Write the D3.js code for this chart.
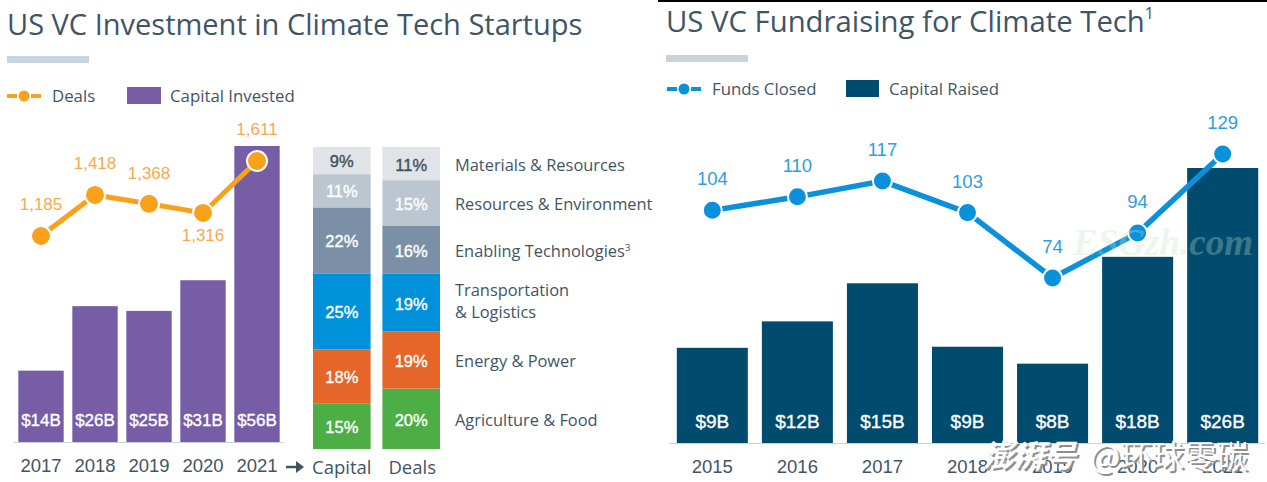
<!DOCTYPE html>
<html>
<head>
<meta charset="utf-8">
<script src="https://cdn.jsdelivr.net/npm/d3@7"></script>
<style>
  html, body { margin: 0; padding: 0; background: #fff; }
  svg { display: block; }
  text { font-family: "Open Sans", "Noto Sans", sans-serif; }
  text.num { font-family: "Liberation Sans", Arial, sans-serif; }
</style>
</head>
<body>
<div id="chart"></div>
<script>
// Data - left panel
var years_left      =   ["2017", "2018", "2019", "2020", "2021"];
var capital_left    =   [13.5, 25.7, 24.8, 30.6, 56];
var deals           =   [1185, 1418, 1368, 1316, 1611];

// Sector mix, bottom of the stack first
var sectors         =   ["Agriculture & Food", "Energy & Power", "Transportation & Logistics", "Enabling Technologies", "Resources & Environment", "Materials & Resources"];
var share_capital   =   [15, 18, 25, 22, 11, 9];
var share_deals     =   [20, 19, 19, 16, 15, 11];
var sector_colors   =   ["#4cae45", "#e66528", "#0091da", "#7b90a6", "#bcc6d0", "#e0e4e8"];
var sector_text     =   ["#fff", "#fff", "#fff", "#fff", "#fff", "#3c4f5c"];

// Data - right panel
var years_right     =   ["2015", "2016", "2017", "2018", "2019", "2020", "2021"];
var capital_right   =   [9, 11.5, 15.1, 9.1, 7.5, 17.6, 26];
var funds           =   [104, 110, 117, 103, 74, 94, 129];

var chart_width     =   1267;
var chart_height    =   482;
var ink             =   "#3f5565";
var orange          =   "#f9a11b";
var purple          =   "#775ca6";
var navy            =   "#004b6e";
var blue            =   "#0a91dc";

var svg = d3.select("#chart").append("svg")
    .attr("width", chart_width)
    .attr("height", chart_height);

// Scales
var x_left  = d3.scaleBand().domain(years_left).range([14, 284]).paddingInner(0.16).paddingOuter(0.08);
var y_left  = d3.scaleLinear().domain([0, 56]).range([442, 146]);
var y_deals = d3.scaleLinear().domain([1185, 1611]).range([236, 161]);
var x_stack = d3.scaleBand().domain(["Capital", "Deals"]).range([313, 440]).paddingInner(0.17);
var y_share = d3.scaleLinear().domain([0, 100]).range([449, 147]);
var x_right = d3.scaleBand().domain(years_right).range([670, 1265]).paddingInner(0.165).paddingOuter(0.08);
var y_right = d3.scaleLinear().domain([0, 26]).range([443, 168]);
var y_funds = d3.scaleLinear().domain([74, 129]).range([278, 154]);

function label(x, y, txt, size, fill, anchor, weight) {
    return svg.append("text")
        .attr("x", x)
        .attr("y", y)
        .attr("font-size", size)
        .attr("fill", fill)
        .attr("text-anchor", anchor || "start")
        .attr("font-weight", weight || 400)
        .attr("dominant-baseline", "middle")
        .text(txt);
}
function numLabel(x, y, txt, size, fill) {
    return label(x, y, txt, size, fill, "middle").attr("class", "num");
}
// labels inside the bars read a bit heavier than regular
function barLabel(x, y, txt, size, fill) {
    return numLabel(x, y, txt, size, fill).attr("stroke", fill).attr("stroke-width", 0.35);
}

// Titles
label(7, 27, "US VC Investment in Climate Tech Startups", 29, ink);
var t = label(666, 24, "US VC Fundraising for Climate Tech", 29.3, ink);
t.append("tspan").attr("font-size", 16).attr("dy", -9).text("1");
svg.append("rect").attr("x", 658).attr("y", 0).attr("width", 609).attr("height", 2).attr("fill", "#000");
svg.append("rect").attr("x", 7).attr("y", 56).attr("width", 82).attr("height", 7).attr("fill", "#c8d3dd");
svg.append("rect").attr("x", 666).attr("y", 55).attr("width", 82).attr("height", 7).attr("fill", "#c8d3dd");

// Legends
function legendLine(x, y, color, r) {
    svg.append("line").attr("x1", x).attr("x2", x + 34).attr("y1", y).attr("y2", y)
        .attr("stroke", color).attr("stroke-width", 4).attr("stroke-dasharray", "10 14 10");
    svg.append("circle").attr("cx", x + 17).attr("cy", y).attr("r", r).attr("fill", color);
}
legendLine(7, 96, orange, 5.5);
label(52, 97, "Deals", 16.8, ink);
svg.append("rect").attr("x", 127).attr("y", 87).attr("width", 34).attr("height", 17).attr("fill", purple);
label(170, 97, "Capital Invested", 16.8, ink);
legendLine(667, 89, blue, 5.5);
label(712, 90, "Funds Closed", 16.8, ink);
svg.append("rect").attr("x", 846).attr("y", 80).attr("width", 33).attr("height", 17).attr("fill", navy);
label(889, 90, "Capital Raised", 16.8, ink);

// Left bars
svg.selectAll(".bar-left").data(capital_left).enter().append("rect")
    .attr("x", (d, i) => x_left(years_left[i]))
    .attr("y", d => y_left(d))
    .attr("width", x_left.bandwidth())
    .attr("height", d => y_left(0) - y_left(d))
    .attr("fill", purple);
capital_left.forEach((d, i) => {
    var cx = x_left(years_left[i]) + x_left.bandwidth() / 2;
    barLabel(cx, 422, "$" + Math.round(d) + "B", 17, "#fff");
    numLabel(cx, 467, years_left[i], 18.5, ink);
});
svg.append("line").attr("x1", 14).attr("x2", 284).attr("y1", 442.5).attr("y2", 442.5).attr("stroke", "#c8d3dd");

// Deals line
var line_left = d3.line().x((d, i) => x_left(years_left[i]) + x_left.bandwidth() / 2).y(d => y_deals(d));
svg.append("path").attr("d", line_left(deals)).attr("fill", "none").attr("stroke", orange).attr("stroke-width", 5);
svg.selectAll(".dot-left").data(deals).enter().append("circle")
    .attr("cx", (d, i) => x_left(years_left[i]) + x_left.bandwidth() / 2)
    .attr("cy", d => y_deals(d))
    .attr("r", 10)
    .attr("fill", orange)
    .attr("stroke", "#fff")
    .attr("stroke-width", 2);
var deals_dy = [-30, -30, -29, 24, -30];
deals.forEach((d, i) => {
    var cx = x_left(years_left[i]) + x_left.bandwidth() / 2;
    numLabel(cx, y_deals(d) + deals_dy[i], d3.format(",")(d), 17, "#f9a94a");
});

// Arrow between the panels
svg.append("path").attr("d", "M286 467H302").attr("stroke", ink).attr("stroke-width", 2.5);
svg.append("path").attr("d", "M296 461L304 467L296 473Z").attr("fill", ink);

// Stacks
[["Capital", share_capital, 2], ["Deals", share_deals, 3]].forEach(function(col) {
    var cum = d3.cumsum(col[1]);
    svg.selectAll(".s-" + col[0]).data(col[1]).enter().append("rect")
        .attr("x", x_stack(col[0]))
        .attr("y", (d, i) => y_share(cum[i]))
        .attr("width", x_stack.bandwidth())
        .attr("height", d => y_share(0) - y_share(d))
        .attr("fill", (d, i) => sector_colors[i]);
    col[1].forEach((d, i) => {
        barLabel(x_stack(col[0]) + x_stack.bandwidth() / 2, y_share(cum[i] - d / 2) + col[2], d + "%", 16.5, sector_text[i]);
    });
    label(x_stack(col[0]) + x_stack.bandwidth() / 2 - (col[0] === "Capital" ? 0 : -1), 469, col[0], 18.5, ink, "middle");
});

// Sector names - positions follow the Deals column
var cum_deals = d3.cumsum(share_deals);
sectors.forEach((s, i) => {
    var y = y_share(cum_deals[i] - share_deals[i] / 2) + 3;
    if (s === "Transportation & Logistics") {
        label(455, y - 14, "Transportation", 16.4, ink);
        label(455, y + 8, "& Logistics", 16.4, ink);
    } else if (s === "Enabling Technologies") {
        var e = label(455, y, s, 16.4, ink);
        e.append("tspan").attr("font-size", 9.5).attr("dy", -5).text("3");
    } else {
        label(455, y, s, 16.4, ink);
    }
});

// Right bars
svg.selectAll(".bar-right").data(capital_right).enter().append("rect")
    .attr("x", (d, i) => x_right(years_right[i]))
    .attr("y", d => y_right(d))
    .attr("width", x_right.bandwidth())
    .attr("height", d => y_right(0) - y_right(d))
    .attr("fill", navy);
capital_right.forEach((d, i) => {
    var cx = x_right(years_right[i]) + x_right.bandwidth() / 2;
    barLabel(cx, 423, "$" + Math.round(d) + "B", 19, "#fff");
    numLabel(cx, 468, years_right[i], 18.5, ink);
});
svg.append("line").attr("x1", 670).attr("x2", 1265).attr("y1", 443.5).attr("y2", 443.5).attr("stroke", "#c8d3dd");

// Funds line
var line_right = d3.line().x((d, i) => x_right(years_right[i]) + x_right.bandwidth() / 2).y(d => y_funds(d));
svg.append("path").attr("d", line_right(funds)).attr("fill", "none").attr("stroke", blue).attr("stroke-width", 5.5);
svg.selectAll(".dot-right").data(funds).enter().append("circle")
    .attr("cx", (d, i) => x_right(years_right[i]) + x_right.bandwidth() / 2)
    .attr("cy", d => y_funds(d))
    .attr("r", 9.5)
    .attr("fill", blue)
    .attr("stroke", "#fff")
    .attr("stroke-width", 2);
funds.forEach((d, i) => {
    var cx = x_right(years_right[i]) + x_right.bandwidth() / 2;
    numLabel(cx, y_funds(d) - 30, d, 18.5, "#2d9edb");
});

// Watermarks
label(1073, 247, "ESGzh.com", 37, "#c5e3c5", "start", 700)
    .attr("opacity", 0.3)
    .style("font-family", "Liberation Serif")
    .style("font-style", "italic");
[["#8f8f8f", 2], ["#fff", 0]].forEach(function(w) {
    label(983 + w[1], 459 + w[1], "澎湃号", 31, w[0], "start", 700).style("font-family", "Noto Sans CJK SC").style("font-style", "italic");
    label(1090 + w[1], 459 + w[1], "@环球零碳", 32, w[0], "start", 400).style("font-family", "Noto Sans CJK SC");
});
</script>
</body>
</html>
